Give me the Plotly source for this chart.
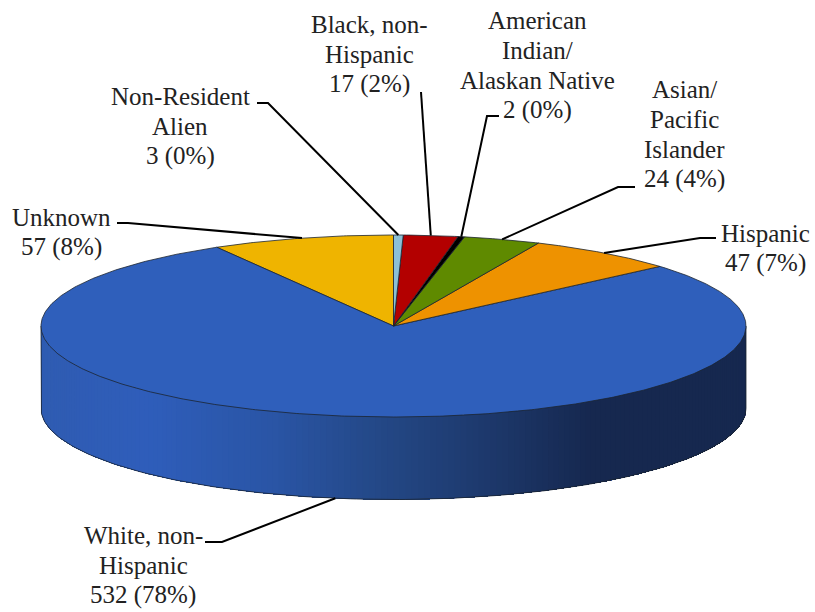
import math
import numpy as np
import plotly.graph_objects as go

# ---- data ----
categories = ["Unknown", "White, non-Hispanic", "Hispanic", "Asian/Pacific Islander",
              "American Indian/Alaskan Native", "Black, non-Hispanic", "Non-Resident Alien"]
counts = [57, 532, 47, 24, 2, 17, 3]
label_lines = [["Unknown", "57 (8%)"], ["White, non-", "Hispanic", "532 (78%)"], ["Hispanic", "47 (7%)"],
               ["Asian/", "Pacific", "Islander", "24 (4%)"], ["American", "Indian/", "Alaskan Native", "2 (0%)"],
               ["Black, non-", "Hispanic", "17 (2%)"], ["Non-Resident", "Alien", "3 (0%)"]]

# ---- styles / layout ----
colors = ["#EFB400", "#2F5FBB", "#EE9200", "#5F8A00", "#000000", "#B30000", "#8CC0D6"]
W, H = 815, 612
CX, CY, RX, RY, DEPTH = 393.5, 326.0, 352.5, 91.0, 82.5
START = 90.0
FONT = dict(family="Liberation Serif", size=25, color="#222222")
LINE_STEP = 30
OUTLINE = "#1c2430"
label_centers = [(61, 232), (143, 565), (765, 248), (684, 134), (537, 65), (369, 54), (180, 126)]
# leader line: label end, elbow; the third point is the slice rim
leaders = [[(117, 223), (128, 223)], [(205, 542), (222, 542)], [(716, 238), (700, 238)],
           [(635, 187), (618, 187)], [(499, 116), (487, 116)], [(421, 92)], [(257, 103), (268, 103)]]
shade_x = [0.0, 0.15, 0.33, 0.48, 0.62, 0.78, 1.0]
shade_r = [47, 47, 42, 36, 30, 22, 22]
shade_g = [92, 94, 85, 72, 58, 40, 40]
shade_b = [178, 187, 165, 134, 110, 79, 79]


def pt(t_deg, dy=0.0):
    t = math.radians(t_deg)
    return CX + RX * math.cos(t), CY - RY * math.sin(t) + dy


total = sum(counts)
spans = [c / total * 360 for c in counts]
starts = [START + sum(spans[:i]) for i in range(len(spans))]

fig = go.Figure()

# side wall: visible lower half; each band runs to the right end and is overpainted by the next
side_angles = np.arange(180, 360, 1.0)
for a in side_angles:
    ts = np.arange(a, 360.5, 1.0)
    upper = [pt(t) for t in ts]
    lower = [pt(t, DEPTH) for t in ts[::-1]]
    poly = upper + lower + upper[:1]
    f = (upper[0][0] - (CX - RX)) / (2 * RX)
    col = "rgb(%d,%d,%d)" % (np.interp(f, shade_x, shade_r), np.interp(f, shade_x, shade_g),
                             np.interp(f, shade_x, shade_b))
    fig.add_trace(go.Scatter(x=[p[0] for p in poly], y=[p[1] for p in poly],
                             mode="lines", fill="toself", fillcolor=col, line=dict(width=0),
                             hoverinfo="skip", showlegend=False))

# side wall outline
out_t = list(np.arange(180, 360.5, 1.0))
ox = [pt(t)[0] for t in out_t[:1]] + [pt(t, DEPTH)[0] for t in out_t] + [pt(out_t[-1])[0]]
oy = [pt(t)[1] for t in out_t[:1]] + [pt(t, DEPTH)[1] for t in out_t] + [pt(out_t[-1])[1]]
fig.add_trace(go.Scatter(x=ox, y=oy, mode="lines", line=dict(color=OUTLINE, width=0.8),
                         hoverinfo="skip", showlegend=False))

# top face
for name, s, sp, col in zip(categories, starts, spans, colors):
    ts = np.linspace(s, s + sp, max(3, int(sp * 2)))
    xs = [CX] + [pt(t)[0] for t in ts] + [CX]
    ys = [CY] + [pt(t)[1] for t in ts] + [CY]
    fig.add_trace(go.Scatter(x=xs, y=ys, mode="lines", fill="toself", fillcolor=col, name=name,
                             line=dict(color=OUTLINE, width=0.8), hoverinfo="name", showlegend=False))

# leader lines
for s, sp, lead in zip(starts, spans, leaders):
    mid = s + sp / 2
    rim = pt(mid, DEPTH if 180 < mid % 360 < 360 else 0)
    xs = [p[0] for p in lead] + [rim[0]]
    ys = [p[1] for p in lead] + [rim[1]]
    fig.add_trace(go.Scatter(x=xs, y=ys, mode="lines", line=dict(color="#000000", width=2),
                             hoverinfo="skip", showlegend=False))

for lines, (lx, ly) in zip(label_lines, label_centers):
    n = len(lines)
    for j, line in enumerate(lines):
        fig.add_annotation(x=lx, y=ly + (j - (n - 1) / 2) * LINE_STEP, text=line, showarrow=False,
                           font=FONT, align="center", xanchor="center", yanchor="middle")

fig.update_layout(width=W, height=H, margin=dict(l=0, r=0, t=0, b=0), paper_bgcolor="white",
                  plot_bgcolor="white", showlegend=False,
                  xaxis=dict(range=[0, W], visible=False, fixedrange=True),
                  yaxis=dict(range=[H, 0], visible=False, fixedrange=True))
fig.write_html("out.html", config=dict(displayModeBar=False),
               post_script="document.body.style.margin='0';document.body.style.overflow='hidden';")
